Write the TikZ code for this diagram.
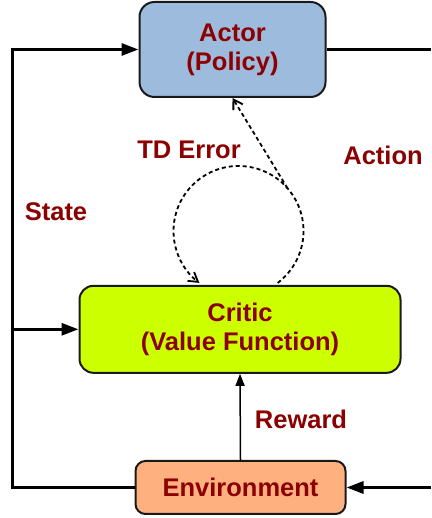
\documentclass[tikz,border=0pt]{standalone}
\usepackage{fontspec}
\setmainfont{Liberation Sans}
\usetikzlibrary{arrows.meta}
\definecolor{labelred}{RGB}{139,0,0}
\definecolor{actorblue}{RGB}{157,187,221}
\definecolor{criticgreen}{RGB}{204,255,0}
\definecolor{envorange}{RGB}{255,176,127}
\tikzset{
	block/.style={draw=black!90,line width=2pt,text=labelred,align=center,inner sep=0pt,
		font=\bfseries\fontsize{25.5}{29}\selectfont},
	lbl/.style={text=labelred,font=\bfseries\fontsize{25.5}{29}\selectfont},
	mainline/.style={line width=3pt},
	tdline/.style={line width=1.8pt,dash pattern=on 4pt off 3pt,-{Straight Barb[length=9pt,width=11pt]}},
}
\begin{document}
\begin{tikzpicture}[x=1pt,y=1pt,>={Triangle[length=17pt,width=12pt]}]
			\def\r{65} % radius of the TD loop
			\useasboundingbox (0,0) rectangle (431,518);
			\node[block,fill=actorblue,rounded corners=15pt,minimum width=186pt,minimum height=95pt] (actor) at (232.5,468.5) {Actor\\(Policy)};
			\node[block,fill=criticgreen,rounded corners=14pt,minimum width=321pt,minimum height=87pt] (critic) at (240,188.7) {Critic\\(Value Function)};
			\node[block,fill=envorange,rounded corners=10pt,minimum width=210pt,minimum height=53pt] (env) at (240.5,30.5) {Environment};
			\coordinate (left) at (12,0);
			\coordinate (right) at (431,0);
			\coordinate (loop) at (238.5,287);
			% state / action loop
			\draw[mainline,->] (env.west) -- (env.west -| left) -- (actor.west -| left) -- (actor.west);
			\draw[mainline,->] (critic.west -| left) -- (critic.west);
			\draw[mainline] (actor.east) -- (actor.east -| right);
			\draw[mainline,->] (env.east -| right) -- (env.east);
			\draw[line width=1.5pt,-{Triangle[length=12pt,width=9pt]}] (env.north) -- (critic.south);
			% TD error
			\draw[tdline] ([shift={(-53:\r)}]loop) arc[start angle=-53,end angle=233,radius=\r];
			\coordinate (tdstart) at ([shift={(41:\r)}]loop);
			\draw[tdline] (tdstart) -- (actor.south);
			\node[lbl] (state) at (56,306) {State};
			\node[lbl] (tderror) at (189,368) {TD Error};
			\node[lbl] (action) at (383,363) {Action};
			\node[lbl] (reward) at (301,99) {Reward};
		\end{tikzpicture}
\end{document}
